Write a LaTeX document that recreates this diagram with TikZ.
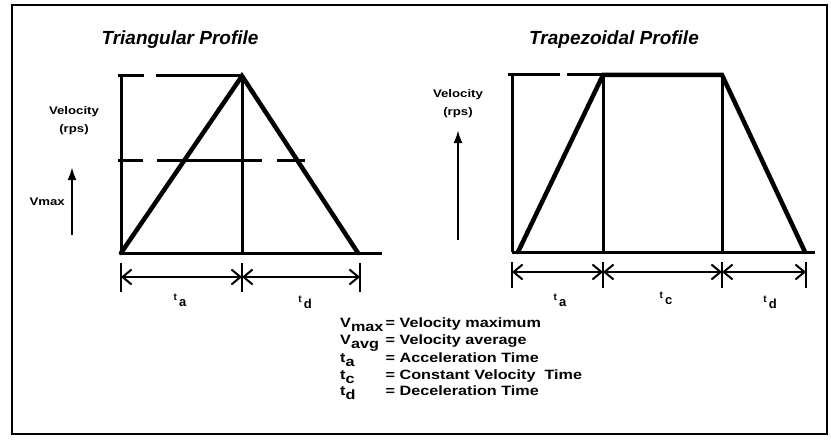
\documentclass[tikz,border=0pt]{standalone}
\usepackage{fontspec}
\setmainfont{Liberation Sans}
\newfontfamily\widefont[FakeStretch=1.2]{Liberation Sans}
\usetikzlibrary{arrows.meta,positioning}

\begin{document}
\begin{tikzpicture}[x=1pt,y=-1pt,>={Straight Barb[length=9pt,width=15pt,line width=2pt]}]
\tikzstyle{prof}=[line width=4.5pt,line cap=round,line join=miter]
\tikzstyle{axis}=[line width=3pt]
\tikzstyle{dim}=[line width=1.8pt,<->]
\tikzstyle{tick}=[line width=2.6pt]
\tikzstyle{ttl}=[font=\fontsize{19}{21}\selectfont\bfseries\itshape]
\tikzstyle{lbl}=[font=\fontsize{11}{12}\selectfont\widefont\bfseries,inner sep=0pt]
\tikzstyle{tlbl}=[font=\fontsize{13}{13}\selectfont\bfseries,inner sep=0pt]
\tikzstyle{vel}=[line width=2.4pt,-{Latex[length=13pt,width=9pt]}]
\useasboundingbox (0,0) rectangle (831,444);
\draw[line width=2pt] (12,5) rectangle (827,434);

% triangular profile
\node[ttl] (ttri) at (180,40) {Triangular Profile};
\coordinate (o1) at (121,253);
\coordinate (a1) at (121,76);
\coordinate (p1) at (242,76);
\coordinate (b1) at (242,253);
\coordinate (e1) at (358,253);
\coordinate (z1) at (382,253);
\draw[axis] (o1)--(a1);
\draw[axis] (p1)--(b1);
\draw[axis] (o1)--(z1);
\draw[axis,dash pattern=on 26pt off 12pt on 90pt] (118,76)--(p1);
\draw[axis,dash pattern=on 25pt off 14pt on 105pt off 15pt on 28pt] (118,160)--(305,160);
\draw[prof] (o1)--(p1)--(e1);
\node[lbl,align=center] (vtri) at (74,121) {Velocity\\[6pt](rps)};
\coordinate (v1s) at (72,235);
\coordinate (v1e) at (72,167);
\draw[vel] (v1s)--(v1e);
\node[lbl,left=7pt of v1s,yshift=33pt] (vmx) {Vmax};
\foreach \x/\n in {121/k1,242/k2,360/k3}
  \draw[tick] (\x,263) coordinate (\n) -- (\x,292);
\draw[dim] (121,277)--(242,277);
\draw[dim] (242,277)--(360,277);
\node[tlbl] (ta1) at (180,300) {{\fontsize{10}{10}\selectfont t}\,\raisebox{-6pt}{a}};
\node[tlbl] (td1) at (305,302) {{\fontsize{10}{10}\selectfont t}\,\raisebox{-6pt}{d}};

% trapezoidal profile
\node[ttl] (ttrap) at (614,40) {Trapezoidal Profile};
\coordinate (o2) at (512,252);
\coordinate (a2) at (512,75);
\coordinate (s2) at (518,252);
\coordinate (p2) at (603,75);
\coordinate (b2) at (603,252);
\coordinate (p3) at (722,75);
\coordinate (b3) at (722,252);
\coordinate (e2) at (805,252);
\coordinate (z2) at (815,252);
\draw[axis] (o2)--(a2);
\draw[axis] (p2)--(b2);
\draw[axis] (p3)--(b3);
\draw[axis] (o2)--(z2);
\draw[axis,dash pattern=on 52pt off 7pt on 40pt] (508,75)--(p2);
\draw[prof] (s2)--(p2)--(p3)--(e2);
\node[lbl,align=center] (vtrap) at (458,104) {Velocity\\[6pt](rps)};
\coordinate (v2s) at (458,240);
\coordinate (v2e) at (458,130);
\draw[vel] (v2s)--(v2e);
\foreach \x/\n in {512/m1,603/m2,722/m3,806/m4}
  \draw[tick] (\x,262) coordinate (\n) -- (\x,288);
\draw[dim] (512,272)--(603,272);
\draw[dim] (603,272)--(722,272);
\draw[dim] (722,272)--(806,272);
\node[tlbl] (ta2) at (560,300) {{\fontsize{10}{10}\selectfont t}\,\raisebox{-6pt}{a}};
\node[tlbl] (tc2) at (666,298) {{\fontsize{10}{10}\selectfont t}\,\raisebox{-6pt}{c}};
\node[tlbl] (td2) at (770,302) {{\fontsize{10}{10}\selectfont t}\,\raisebox{-6pt}{d}};

% legend
\node[font=\fontsize{13.5}{16.5}\selectfont\widefont\bfseries,anchor=north west,inner sep=0pt] (lgd) at (340,316) {%
\begin{tabular}{@{}l@{\,}l@{}}
V\raisebox{-4pt}{max} & = Velocity maximum\\
V\raisebox{-4pt}{avg} & = Velocity average\\
t\raisebox{-4pt}{a} & = Acceleration Time\\
t\raisebox{-4pt}{c} & = Constant Velocity\ \ Time\\
t\raisebox{-4pt}{d} & = Deceleration Time
\end{tabular}};
\end{tikzpicture}
\end{document}
